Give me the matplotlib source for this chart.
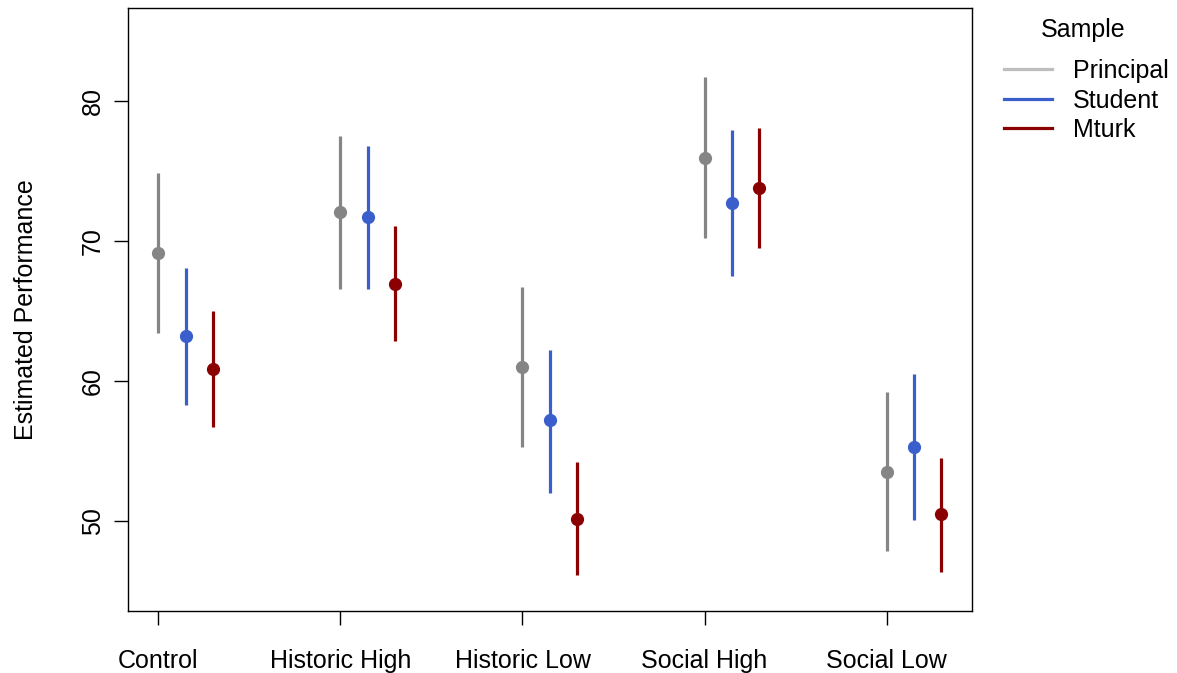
import matplotlib.pyplot as plt
from matplotlib.lines import Line2D
import numpy as np

plt.rcParams['font.family'] = ['Liberation Sans', 'DejaVu Sans']

conditions = ['Control', 'Historic High', 'Historic Low', 'Social High', 'Social Low']
samples = ['Principal', 'Student', 'Mturk']

# point estimates and interval ends for each sample
est = {
    'Principal': [69.1, 72.05, 61.0, 75.9, 53.5],
    'Student':   [63.2, 71.7, 57.2, 72.7, 55.3],
    'Mturk':     [60.85, 66.95, 50.2, 73.8, 50.5],
}
lo = {
    'Principal': [63.4, 66.6, 55.3, 70.2, 47.85],
    'Student':   [58.3, 66.55, 52.0, 67.5, 50.1],
    'Mturk':     [56.7, 62.85, 46.15, 69.5, 46.4],
}
hi = {
    'Principal': [74.85, 77.45, 66.7, 81.65, 59.2],
    'Student':   [68.05, 76.75, 62.25, 77.9, 60.5],
    'Mturk':     [65.0, 71.05, 54.2, 78.05, 54.55],
}

colors = {'Principal': '#858585', 'Student': '#3a5fcd', 'Mturk': '#8b0000'}
legend_colors = {'Principal': '#bebebe', 'Student': '#3a5fcd', 'Mturk': '#8b0000'}
offsets = {'Principal': 0.0, 'Student': 0.15, 'Mturk': 0.30}

fig = plt.figure(figsize=(11.77, 6.73), dpi=100)
ax = fig.add_axes([0.109, 0.092, 0.717, 0.896])

x = np.arange(1, len(conditions) + 1)
for s in samples:
    xs = x + offsets[s]
    ax.vlines(xs, lo[s], hi[s], color=colors[s], lw=2.3)
    ax.plot(xs, est[s], 'o', color=colors[s], ms=8.5, ls='none')

ax.set_xlim(0.835, 5.47)
ax.set_ylim(43.6, 86.6)
ax.set_xticks(x)
ax.set_xticklabels(conditions)
ax.set_yticks([50, 60, 70, 80])
ax.set_yticklabels(['50', '60', '70', '80'], rotation=90, va='center')
ax.tick_params(axis='both', direction='out', length=10, width=1, labelsize=18, colors='black')
ax.tick_params(axis='x', pad=17)
ax.tick_params(axis='y', pad=7)
ax.set_ylabel('Estimated Performance', fontsize=18, labelpad=31)
for sp in ax.spines.values():
    sp.set_linewidth(1)

handles = [Line2D([0], [0], color=legend_colors[s], lw=2.3) for s in samples]
fig.text(1083 / 1177, 1 - 30 / 673, 'Sample', fontsize=18, ha='center', va='center')
fig.legend(handles, samples, loc='upper left', bbox_to_anchor=(1004 / 1177, 1 - 59 / 673),
           frameon=False, fontsize=18, borderpad=0, borderaxespad=0,
           handlelength=1.92, labelspacing=0.22, handletextpad=0.84)

fig.savefig('out.png', dpi=100)
